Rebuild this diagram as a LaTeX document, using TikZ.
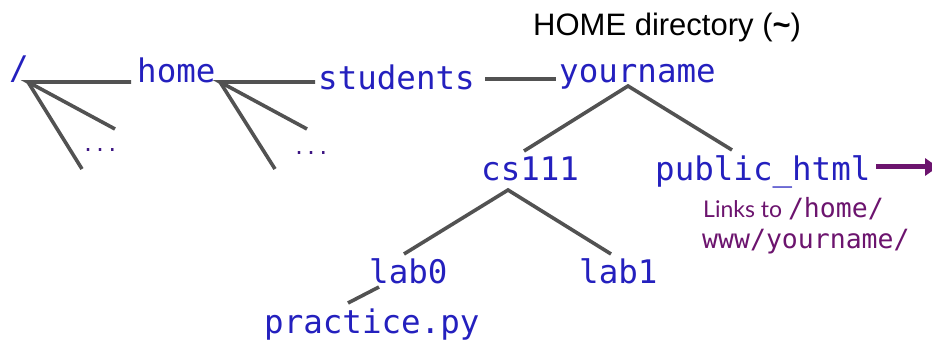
\documentclass[tikz,border=0pt]{standalone}
\usepackage{fontspec}
\setmainfont{Liberation Sans}
\newfontfamily\monof{DejaVu Sans Mono}
\newfontfamily\gillf{Lato}
\usetikzlibrary{arrows.meta}
\definecolor{dirblue}{RGB}{36,32,190}
\definecolor{linkpurple}{RGB}{108,20,110}
\definecolor{treegray}{RGB}{82,82,82}
\definecolor{dotpurple}{RGB}{60,20,130}
\tikzset{
  dir/.style={inner sep=0pt, anchor=base west, text=dirblue, font=\monof\fontsize{32.5}{32}\selectfont},
  more/.style={inner sep=0pt, anchor=base west, text=dotpurple, font=\monof\fontsize{20}{20}\selectfont},
  edge/.style={draw=treegray, line width=3.6pt},
  linkarrow/.style={draw=linkpurple, line width=5pt, -{Triangle[length=13pt,width=17pt]}},
  note/.style={inner sep=0pt, anchor=base west, text=linkpurple},
  title/.style={inner sep=0pt, anchor=base west, text=black, font=\fontsize{31}{31}\selectfont}
}
\begin{document}
\begin{tikzpicture}[x=1pt,y=-1pt]
\useasboundingbox (0,0) rectangle (932,342);
\clip (0,0) rectangle (932,342);
% nodes
\node[title] (hometitle) at (533,36) {HOME directory ({\bfseries\textasciitilde})};
\node[dir] (root) at (9,80) {/};
\node[dir] (home) at (137,83) {home};
\node[dir] (students) at (318,90) {students};
\node[dir] (yourname) at (559,83) {yourname};
\node[dir] (cs) at (481,180) {cs111};
\node[dir] (pub) at (655,180) {public\_html};
\node[dir] (lab0) at (369,283) {lab0};
\node[dir] (lab1) at (579,283) {lab1};
\node[dir] (prac) at (264,333) {practice.py};
\node[more] (dots1) at (82,152) {...};
\node[more] (dots2) at (293,154) {...};
\node[note] (links1) at (703,218) {{\gillf\fontsize{23}{23}\selectfont Links to }{\monof\fontsize{26.5}{26}\selectfont /home/}};
\node[note] (links2) at (702,248) {\monof\fontsize{26.5}{26}\selectfont www/yourname/};
% connector end points
\coordinate (rootj) at (28,82);
\coordinate (rootr) at (131,82);
\coordinate (rootm) at (115,129);
\coordinate (rootd) at (82,169);
\coordinate (homej) at (220,82);
\coordinate (homer) at (315,82);
\coordinate (homem) at (307,129);
\coordinate (homed) at (275,169);
\coordinate (studr) at (485,79);
\coordinate (yourl) at (556,79);
\coordinate (yourj) at (628,86);
\coordinate (csup) at (524,151);
\coordinate (pubup) at (732,150);
\coordinate (csj) at (508,190);
\coordinate (lab0up) at (404,254);
\coordinate (lab1up) at (611,254);
\coordinate (lab0j) at (379,287);
\coordinate (pracup) at (348,303);
\coordinate (pubr) at (876,167);
\coordinate (arrowend) at (938,167);
% connectors
\draw[edge] (rootr) -- (rootj) -- (rootm);
\draw[edge] (rootj) -- (rootd);
\draw[edge] (homer) -- (homej) -- (homem);
\draw[edge] (homej) -- (homed);
\draw[edge] (studr) -- (yourl);
\draw[edge] (csup) -- (yourj) -- (pubup);
\draw[edge] (lab0up) -- (csj) -- (lab1up);
\draw[edge] (lab0j) -- (pracup);
\draw[linkarrow] (pubr) -- (arrowend);
\end{tikzpicture}
\end{document}
